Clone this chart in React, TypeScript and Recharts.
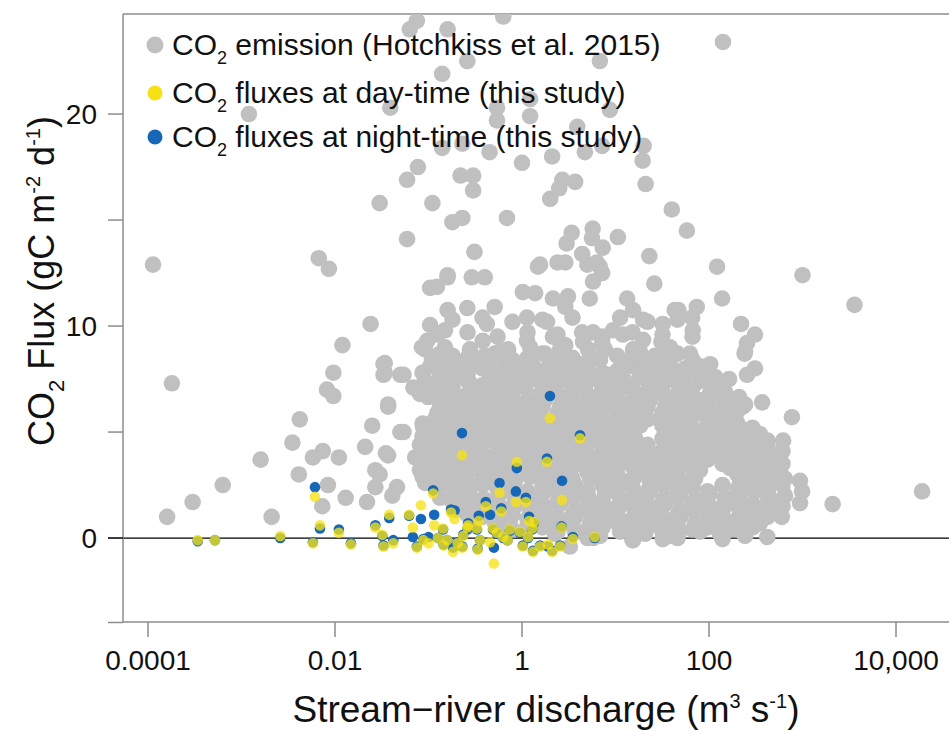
import { ScatterChart, Scatter, XAxis, YAxis, ReferenceLine } from "recharts";

const FONT = "'Liberation Sans', Arial, Helvetica, sans-serif";

// Hotchkiss et al. 2015: [discharge m3/s, CO2 flux gC m-2 d-1]
// scattered points outside the dense core
const hotchkissSparse: [number, number][] = [
  [0.000113, 12.9], [0.00018, 7.3], [0.00016, 1.0], [0.0003, 1.7], [0.00063, 2.5],
  [0.0012, 20.0], [0.0016, 3.7], [0.0021, 1.0], [0.0035, 4.5], [0.0042, 5.6],
  [0.0041, 3.0], [0.0058, 3.8], [0.0074, 4.1], [0.0067, 13.2], [0.0086, 12.7],
  [0.0084, 2.5], [0.0073, 1.5], [0.0082, 7.0], [0.0096, 6.7], [0.0096, 7.8],
  [0.012, 9.1], [0.011, 3.8], [0.013, 1.9], [0.021, 4.3], [0.022, 1.7],
  [0.024, 10.1], [0.025, 5.3], [0.027, 3.2], [0.03, 3.0], [0.027, 2.4],
  [0.03, 15.8], [0.033, 8.2], [0.033, 7.7], [0.037, 6.2], [0.037, 3.9],
  [0.041, 2.0], [0.046, 2.4], [0.039, 20.3], [0.05, 7.7], [0.05, 5.0],
  [0.059, 16.9], [0.059, 14.1], [0.077, 17.5], [0.063, 24.0], [0.075, 24.4],
  [0.11, 15.8], [0.14, 21.9], [0.14, 18.4], [0.16, 24.0], [0.16, 12.3],
  [0.18, 14.9], [0.23, 15.1], [0.23, 18.6], [0.22, 17.1], [0.3, 17.1],
  [0.3, 16.4], [0.26, 22.5], [0.45, 18.2], [0.54, 20.3], [0.54, 19.7],
  [0.63, 24.6], [0.69, 15.1], [1.0, 17.7], [1.22, 20.7], [1.22, 19.9],
  [2.1, 18.0], [2.7, 16.9], [3.7, 16.8], [2.5, 16.5], [2.0, 16.0],
  [3.9, 19.4], [4.7, 18.2], [6.8, 22.5], [7.2, 18.5], [8.7, 20.2],
  [20, 18.5], [19.5, 17.8], [21, 16.7], [40, 15.5], [58, 14.5],
  [141, 23.4], [122, 12.8], [1000, 12.4], [3600, 11.0], [19000, 2.2],
  [2100, 1.6], [940, 2.7], [990, 2.2], [940, 1.65], [620, 4.6],
  [770, 5.7], [370, 6.4], [310, 9.6], [220, 10.1], [255, 9.2],
  [240, 8.7], [310, 8.0], [255, 7.7], [164, 7.5], [103, 8.2],
  [138, 11.3], [74, 10.9], [66, 10.4], [47, 10.75], [67, 9.8],
  [32, 10.1], [26, 12.0], [23, 13.3], [10.6, 14.2], [7.3, 13.7],
  [5.7, 14.6], [5.6, 14.15], [3.4, 14.4], [3.0, 13.9], [4.4, 13.4],
  [6.3, 13.0], [7.2, 12.5], [2.4, 13.0], [2.9, 13.0], [1.56, 12.9],
  [1.48, 12.8], [5.0, 12.9], [6.8, 12.8], [5.75, 12.1], [1.02, 11.6],
  [1.38, 11.55], [2.14, 11.3], [3.1, 11.4], [5.3, 11.3], [13.3, 11.3],
  [15.4, 10.75], [2.9, 10.9], [0.104, 11.8], [0.123, 11.85], [0.29, 12.3],
  [0.4, 12.3], [0.26, 10.85], [0.51, 10.9], [0.16, 10.75], [43, 10.75],
  [11.2, 10.4], [19.7, 10.3], [1.13, 10.4], [1.85, 10.2], [0.104, 10.05],
  [0.42, 10.1], [0.15, 9.8], [4.4, 9.7], [5.75, 9.7], [9.4, 9.8],
  [12.0, 9.6], [0.097, 9.3], [0.38, 9.3], [1.13, 9.3], [2.14, 9.5],
  [4.5, 9.25], [7.2, 9.2], [19.7, 9.35], [31, 9.25], [0.15, 9.0],
  [0.085, 9.0], [2.9, 9.1], [10.4, 8.6], [15.4, 8.9], [41, 8.6],
  [0.29, 8.5], [0.51, 8.7], [0.71, 8.9], [1.31, 8.6], [5.1, 8.9],
  [0.034, 8.25], [0.109, 8.4], [0.17, 8.4], [0.054, 7.7], [0.034, 7.8],
  [0.037, 6.3], [0.054, 5.0], [0.088, 5.2], [0.081, 4.4], [0.035, 4.0],
  [0.069, 7.1], [0.099, 6.65], [0.133, 7.55], [0.31, 13.5], [0.16, 12.4],
  [80, 6.5], [117, 6.9], [210, 6.65], [230, 6.2], [275, 4.05],
  [190, 4.95], [122, 5.1], [93, 5.7], [49, 7.0], [300, 3.3],
  [420, 2.65], [600, 1.0], [275, 0.6], [167, 0.4], [420, 0.05],
  [32, -0.05], [47, 0.25], [15.4, -0.1], [5.75, 0.0], [3.25, -0.4],
];

// dense core of the Hotchkiss cloud, read band by band from top to bottom
const hotchkissCore: [number, number][] = [
  [0.1805, 10.3], [0.378, 10.4], [0.7914, 10.2], [1.657, 10.3], [3.468, 10.4], [21.99, 10.2], [46.04, 10.3],
  [0.1248, 9.6], [0.2613, 9.7], [0.547, 9.5], [1.145, 9.7], [2.397, 9.6], [7.261, 9.5], [15.2, 9.7], [31.82, 9.6], [66.61, 9.5],
  [0.092, 8.9], [0.133, 8.7], [0.278, 8.9], [0.402, 8.6], [0.58, 8.8], [1.22, 9.0], [1.76, 8.7], [2.55, 8.9],
  [5.34, 8.6], [7.72, 8.9], [18.3, 8.8], [26.5, 8.6], [38.3, 9.0], [62.6, 8.7], [243, 8.8],
  [0.1248, 8.4], [0.1805, 8.6], [0.2613, 8.5], [0.378, 8.3], [0.547, 8.6], [0.7914, 8.4], [1.145, 8.5], [1.657, 8.7],
  [2.397, 8.4], [3.468, 8.5], [5.018, 8.3], [15.2, 8.6], [21.99, 8.4], [31.82, 8.5], [46.04, 8.7], [66.61, 8.4],
  [0.104, 8.1], [0.15, 8.3], [0.217, 8.0], [0.314, 8.2], [0.455, 8.4], [0.66, 8.1], [0.95, 8.2], [1.38, 8.0],
  [1.99, 8.3], [2.88, 8.1], [4.17, 8.2], [6.83, 8.4], [12.6, 8.1], [18.3, 8.0], [26.5, 8.3], [38.3, 8.2],
  [55.4, 8.0], [80.1, 8.1],
  [0.0863, 7.8], [0.1248, 8.0], [0.1805, 7.9], [0.2613, 7.7], [0.378, 8.0], [0.547, 7.8], [0.7914, 7.9], [1.145, 8.1],
  [1.657, 7.8], [2.397, 7.9], [3.468, 7.7], [5.018, 8.0], [7.261, 7.8], [10.5, 7.9], [15.2, 8.1], [21.99, 7.8],
  [31.82, 7.9], [46.04, 7.7], [66.61, 8.0], [96.38, 7.8],
  [0.092, 7.4], [0.133, 7.6], [0.192, 7.5], [0.278, 7.3], [0.455, 7.6], [0.66, 7.4], [0.95, 7.7], [1.38, 7.5],
  [1.99, 7.3], [2.88, 7.6], [4.17, 7.4], [6.04, 7.5], [8.73, 7.7], [12.6, 7.4], [18.3, 7.6], [26.5, 7.3],
  [38.3, 7.5], [55.4, 7.7], [80.1, 7.4], [116, 7.6],
  [0.0863, 7.2], [0.1248, 7.3], [0.1805, 7.1], [0.2613, 7.4], [0.378, 7.2], [0.547, 7.3], [0.7914, 7.1], [1.145, 7.4],
  [1.657, 7.2], [2.397, 7.3], [3.468, 7.1], [5.018, 7.4], [7.261, 7.2], [10.5, 7.3], [15.2, 7.1], [21.99, 7.4],
  [31.82, 7.2], [46.04, 7.3], [66.61, 7.1], [96.38, 7.4], [139.4, 7.2],
  [0.081, 6.8], [0.117, 7.0], [0.17, 6.9], [0.246, 6.7], [0.356, 7.0], [0.514, 6.8], [0.74, 6.9], [1.08, 7.1],
  [1.56, 6.8], [2.25, 6.9], [3.26, 6.7], [4.72, 7.0], [6.83, 6.8], [9.88, 6.9], [14.3, 7.1], [20.7, 6.8],
  [29.9, 6.9], [43.3, 6.7], [62.6, 7.0], [102, 6.8], [148, 6.9],
  [0.1248, 6.6], [0.1805, 6.5], [0.2613, 6.7], [0.378, 6.6], [0.547, 6.4], [0.7914, 6.7], [1.145, 6.5], [1.657, 6.6],
  [2.397, 6.8], [3.468, 6.5], [5.018, 6.6], [7.261, 6.4], [10.5, 6.7], [15.2, 6.5], [21.99, 6.6], [31.82, 6.8],
  [46.04, 6.5], [66.61, 6.6], [96.38, 6.4], [139.4, 6.7], [201.7, 6.5],
  [0.133, 6.2], [0.192, 6.4], [0.278, 6.3], [0.402, 6.1], [0.58, 6.4], [0.84, 6.2], [1.22, 6.3], [1.76, 6.5],
  [2.55, 6.2], [3.69, 6.3], [5.34, 6.1], [7.72, 6.4], [11.2, 6.2], [16.2, 6.3], [23.4, 6.5], [33.8, 6.2],
  [49, 6.3], [70.9, 6.1], [102, 6.4], [148, 6.2], [243, 6.3],
  [0.1248, 5.9], [0.1805, 6.1], [0.2613, 6.0], [0.378, 5.8], [0.547, 6.1], [0.7914, 5.9], [1.145, 6.0], [1.657, 6.2],
  [2.397, 5.9], [3.468, 6.0], [5.018, 5.8], [7.261, 6.1], [10.5, 5.9], [15.2, 6.0], [21.99, 6.2], [31.82, 5.9],
  [46.04, 6.0], [66.61, 5.8], [96.38, 6.1], [139.4, 5.9], [201.7, 6.0],
  [0.117, 5.6], [0.17, 5.8], [0.246, 5.7], [0.356, 5.5], [0.514, 5.8], [0.74, 5.6], [1.08, 5.7], [1.56, 5.9],
  [2.25, 5.6], [3.26, 5.7], [4.72, 5.5], [6.83, 5.8], [9.88, 5.6], [14.3, 5.7], [20.7, 5.9], [29.9, 5.6],
  [43.3, 5.7], [62.6, 5.5], [90.6, 5.8], [131, 5.6], [190, 5.7],
  [0.0863, 5.4], [0.1248, 5.3], [0.1805, 5.5], [0.2613, 5.4], [0.378, 5.2], [0.547, 5.5], [0.7914, 5.3], [1.145, 5.4],
  [1.657, 5.6], [2.397, 5.3], [3.468, 5.4], [5.018, 5.2], [7.261, 5.5], [10.5, 5.3], [15.2, 5.4], [21.99, 5.6],
  [31.82, 5.3], [46.04, 5.4], [66.61, 5.2], [96.38, 5.5], [139.4, 5.3], [201.7, 5.4], [291.9, 5.2],
  [0.104, 5.0], [0.15, 5.2], [0.217, 5.1], [0.314, 4.9], [0.455, 5.2], [0.66, 5.0], [0.95, 5.1], [1.38, 5.3],
  [1.99, 5.0], [2.88, 5.1], [4.17, 4.9], [6.04, 5.2], [8.73, 5.0], [12.6, 5.1], [18.3, 5.3], [38.3, 5.0],
  [55.4, 5.1], [80.1, 4.9], [116, 5.2], [168, 5.0], [243, 5.1], [351, 4.9],
  [0.0863, 4.8], [0.1248, 4.7], [0.1805, 4.9], [0.2613, 4.8], [0.378, 4.6], [0.547, 4.9], [0.7914, 4.7], [1.145, 4.8],
  [1.657, 5.0], [2.397, 4.7], [3.468, 4.8], [5.018, 4.6], [7.261, 4.9], [10.5, 4.7], [15.2, 4.8], [31.82, 4.7],
  [46.04, 4.9], [66.61, 4.8], [96.38, 4.6], [139.4, 4.9], [201.7, 4.7], [291.9, 4.8], [422.4, 4.6],
  [0.092, 4.4], [0.133, 4.6], [0.192, 4.5], [0.278, 4.3], [0.402, 4.6], [0.58, 4.4], [0.84, 4.5], [1.22, 4.7],
  [1.76, 4.4], [2.55, 4.5], [3.69, 4.3], [5.34, 4.6], [7.72, 4.4], [11.2, 4.5], [16.2, 4.7], [33.8, 4.4],
  [49, 4.5], [70.9, 4.3], [102, 4.6], [148, 4.4], [215, 4.5], [311, 4.3],
  [0.0863, 4.2], [0.1248, 4.1], [0.1805, 4.3], [0.2613, 4.2], [0.378, 4.0], [0.547, 4.3], [0.7914, 4.1], [1.145, 4.2],
  [1.657, 4.4], [2.397, 4.1], [3.468, 4.2], [5.018, 4.0], [7.261, 4.3], [10.5, 4.1], [15.2, 4.2], [21.99, 4.4],
  [31.82, 4.1], [46.04, 4.2], [66.61, 4.0], [96.38, 4.3], [139.4, 4.1], [201.7, 4.2], [291.9, 4.0], [422.4, 4.3], [611.1, 4.1],
  [0.072, 3.8], [0.104, 4.0], [0.15, 3.9], [0.217, 3.7], [0.314, 4.0], [0.455, 3.8], [0.66, 3.9], [0.95, 4.1],
  [1.38, 3.8], [1.99, 3.9], [2.88, 3.7], [4.17, 4.0], [6.04, 3.8], [8.73, 3.9], [12.6, 4.1], [18.3, 3.8],
  [26.5, 3.9], [38.3, 3.7], [55.4, 4.0], [80.1, 3.8], [116, 3.9], [168, 4.1], [243, 3.8], [351, 3.9], [508, 3.7],
  [0.0863, 3.5], [0.1248, 3.6], [0.1805, 3.4], [0.2613, 3.7], [0.378, 3.5], [0.547, 3.6], [0.7914, 3.4], [1.145, 3.7],
  [1.657, 3.5], [2.397, 3.6], [3.468, 3.4], [5.018, 3.7], [7.261, 3.5], [10.5, 3.6], [15.2, 3.4], [21.99, 3.7],
  [31.82, 3.5], [46.04, 3.6], [66.61, 3.4], [96.38, 3.7], [139.4, 3.5], [201.7, 3.6], [291.9, 3.4], [422.4, 3.7], [611.1, 3.5],
  [0.081, 3.2], [0.117, 3.4], [0.17, 3.2], [0.246, 3.1], [0.356, 3.4], [0.514, 3.2], [0.74, 3.3], [1.08, 3.5],
  [1.56, 3.2], [2.25, 3.3], [3.26, 3.1], [4.72, 3.4], [6.83, 3.2], [9.88, 3.3], [14.3, 3.5], [20.7, 3.2],
  [29.9, 3.3], [43.3, 3.1], [62.6, 3.4], [80.1, 3.2], [168, 3.3], [243, 3.1], [351, 3.4], [508, 3.2],
  [0.0863, 2.9], [0.1248, 3.0], [0.1805, 2.8], [0.2613, 3.1], [0.378, 2.9], [0.547, 3.0], [0.7914, 2.8], [1.145, 3.1],
  [1.657, 2.9], [2.397, 3.0], [3.468, 2.8], [5.018, 3.1], [7.261, 2.9], [10.5, 3.0], [15.2, 2.8], [21.99, 3.1],
  [31.82, 2.9], [46.04, 3.0], [66.61, 2.8], [201.7, 3.0], [291.9, 2.8], [422.4, 3.1], [611.1, 2.9],
  [0.092, 2.6], [0.133, 2.8], [0.192, 2.6], [0.278, 2.5], [0.402, 2.8], [0.58, 2.6], [0.84, 2.7], [1.22, 2.9],
  [1.76, 2.6], [2.55, 2.7], [3.69, 2.5], [5.34, 2.8], [7.72, 2.6], [11.2, 2.7], [16.2, 2.9], [23.4, 2.6],
  [33.8, 2.7], [49, 2.5], [70.9, 2.8], [215, 2.6], [311, 2.7], [449, 2.5], [650, 2.8],
  [0.1248, 2.3], [0.1805, 2.4], [0.2613, 2.2], [0.378, 2.5], [0.547, 2.3], [0.7914, 2.4], [1.145, 2.2], [1.657, 2.5],
  [2.397, 2.3], [3.468, 2.4], [5.018, 2.2], [7.261, 2.5], [10.5, 2.3], [15.2, 2.4], [21.99, 2.2], [31.82, 2.5],
  [46.04, 2.3], [66.61, 2.4], [96.38, 2.2], [139.4, 2.5], [201.7, 2.3], [291.9, 2.4], [422.4, 2.2], [611.1, 2.5],
  [0.133, 1.9], [0.192, 2.1], [0.278, 2.0], [0.402, 1.8], [0.58, 2.1], [0.84, 1.9], [1.22, 2.0], [1.76, 2.2],
  [2.55, 1.9], [3.69, 2.0], [5.34, 1.8], [7.72, 2.1], [11.2, 1.9], [16.2, 2.0], [23.4, 2.2], [33.8, 1.9],
  [49, 2.0], [70.9, 1.8], [102, 2.1], [148, 1.9], [215, 2.0], [311, 2.2], [449, 1.9], [650, 2.0],
  [0.1805, 1.7], [0.2613, 1.6], [0.378, 1.8], [0.547, 1.7], [0.7914, 1.5], [1.145, 1.8], [1.657, 1.6], [2.397, 1.7],
  [3.468, 1.9], [5.018, 1.6], [7.261, 1.7], [10.5, 1.5], [15.2, 1.8], [21.99, 1.6], [31.82, 1.7], [46.04, 1.9],
  [66.61, 1.6], [96.38, 1.7], [139.4, 1.5], [201.7, 1.8], [291.9, 1.6], [422.4, 1.7], [611.1, 1.5],
  [0.192, 1.3], [0.278, 1.5], [0.402, 1.4], [0.58, 1.2], [0.84, 1.5], [1.22, 1.3], [1.76, 1.4], [2.55, 1.6],
  [3.69, 1.3], [5.34, 1.4], [7.72, 1.2], [11.2, 1.5], [16.2, 1.3], [23.4, 1.4], [33.8, 1.6], [49, 1.3],
  [70.9, 1.4], [102, 1.2], [148, 1.5], [215, 1.3], [311, 1.4], [449, 1.2],
  [0.2613, 1.1], [0.378, 1.0], [0.547, 1.2], [0.7914, 1.1], [1.145, 0.9], [1.657, 1.2], [2.397, 1.0], [3.468, 1.1],
  [5.018, 1.3], [7.261, 1.0], [10.5, 1.1], [15.2, 0.9], [21.99, 1.2], [31.82, 1.0], [46.04, 1.1], [66.61, 1.3],
  [96.38, 1.0], [139.4, 1.1], [201.7, 0.9], [291.9, 1.2], [422.4, 1.0],
  [0.314, 0.9], [0.514, 0.7], [0.74, 0.8], [1.22, 0.9], [1.76, 0.7], [2.55, 0.8], [3.69, 1.0], [5.34, 0.7],
  [7.72, 0.8], [11.2, 0.6], [16.2, 0.9], [23.4, 0.7], [33.8, 0.8], [49, 1.0], [70.9, 0.7], [102, 0.8],
  [148, 0.6], [215, 0.9], [351, 0.7],
  [0.547, 0.5], [0.7914, 0.4], [1.145, 0.6], [1.657, 0.5], [2.397, 0.3], [3.468, 0.6], [5.018, 0.4], [7.261, 0.5],
  [10.5, 0.7], [15.2, 0.4], [21.99, 0.5], [31.82, 0.3], [46.04, 0.6], [66.61, 0.4], [96.38, 0.5], [139.4, 0.7],
  [201.7, 0.4], [291.9, 0.5],
  [2.25, 0.2], [3.69, 0.3], [6.83, 0.1], [11.2, 0.3], [20.7, 0.2], [38.3, 0.1], [80.1, 0.3], [131, 0.2], [243, 0.1],
  [5.018, 0.0], [15.2, -0.1], [46.04, 0.0], [139.4, -0.05],
];

// this study: one discharge per site, flux by day and by night
const studyDischarge = [
  0.00034, 0.00052, 0.0026, 0.0061, 0.0058, 0.0069, 0.011, 0.0148, 0.027, 0.038,
  0.032, 0.033, 0.042, 0.062, 0.068, 0.075, 0.083, 0.088, 0.1, 0.112,
  0.115, 0.126, 0.143, 0.145, 0.158, 0.174, 0.183, 0.19, 0.205, 0.228,
  0.23, 0.235, 0.26, 0.265, 0.33, 0.335, 0.345, 0.355, 0.41, 0.455,
  0.49, 0.5, 0.54, 0.575, 0.6, 0.63, 0.7, 0.74, 0.86, 0.88,
  0.95, 1.02, 1.1, 1.16, 1.19, 1.28, 1.34, 1.31, 1.56, 1.85,
  1.9, 1.99, 2.1, 2.55, 2.68, 2.65, 3.5, 4.17, 6.0,
];
const dayFlux = [
  -0.1, -0.1, 0.1, 1.95, -0.25, 0.6, 0.25, -0.3, 0.5, 1.1,
  0.15, -0.4, -0.25, 1.1, 0.5, -0.45, 1.55, -0.1, -0.25, 2.1,
  0.6, 0.0, 0.45, -0.35, -0.1, 1.2, -0.65, 0.9, -0.25, 3.9,
  -0.45, 0.1, 0.5, 0.6, 0.45, -0.55, 0.8, -0.1, 1.5, -0.2,
  0.45, -1.2, 0.25, 2.15, 1.25, 0.05, -0.1, 0.4, 1.7, 3.6,
  0.3, -0.4, 1.7, 0.05, 0.8, 0.45, 0.75, -0.65, -0.4, 3.6,
  -0.3, 5.65, -0.65, -0.4, 1.8, 0.5, -0.05, 4.7, 0.05,
];
const nightFlux = [
  -0.15, -0.1, 0.0, 2.4, -0.2, 0.45, 0.4, -0.25, 0.6, 0.95,
  0.1, -0.35, -0.1, 1.05, 0.05, -0.4, 0.9, -0.05, 0.05, 2.25,
  1.1, 0.0, 0.4, -0.3, -0.1, 1.35, -0.45, 1.3, -0.2, 4.95,
  -0.4, 0.15, 0.4, 0.7, 0.4, -0.5, 1.05, -0.1, 1.7, 1.1,
  0.4, -0.45, 0.2, 2.6, 1.4, 0.0, -0.1, 0.35, 2.2, 3.3,
  0.25, -0.35, 1.9, 0.0, 1.0, 0.4, 0.7, -0.6, -0.35, 3.75,
  -0.4, 6.7, -0.6, -0.35, 2.7, 0.55, 0.05, 4.85, 0.0,
];

const xTicks = [0.0001, 0.01, 1, 100, 10000];
const xTickLabels = ["0.0001", "0.01", "1", "100", "10,000"];
const yTicks = [0, 5, 10, 15, 20];
const yTickLabels = ["0", "", "10", "", "20"];

const X_DOMAIN = [5.4e-5, 40700];
const Y_DOMAIN = [-3.96, 24.72];

const GRAY = "#c0c0c0";
const YELLOW = "#f6e116";
const BLUE = "#1667b8";
const AXIS = "#8c8c8c";

const grayPoints = [...hotchkissSparse, ...hotchkissCore].map(([x, y]) => ({ x, y }));
const dayPoints = studyDischarge.map((x, i) => ({ x, y: dayFlux[i] }));
const nightPoints = studyDischarge.map((x, i) => ({ x, y: nightFlux[i] }));

const dot = (r: number, fill: string, opacity = 1) => (props: any) => (
  <circle cx={props.cx} cy={props.cy} r={r} fill={fill} fillOpacity={opacity} />
);

function Overlay() {
  return (
    <svg
      width={949}
      height={731}
      style={{ position: "absolute", left: 0, top: 0, pointerEvents: "none" }}
      fontFamily={FONT}
    >
      {/* axis stubs left of the box, as in the original */}
      <line x1={108} x2={123} y1={622.5} y2={622.5} stroke={AXIS} strokeWidth={1.5} />
      <line x1={108} x2={123} y1={538} y2={538} stroke="#000" strokeWidth={1.3} />

      {/* legend */}
      <circle cx={155} cy={45} r={8.5} fill={GRAY} />
      <circle cx={155} cy={93} r={7.5} fill={YELLOW} />
      <circle cx={155} cy={137} r={7.5} fill={BLUE} />
      <text x={172} y={55} fontSize={30} fill="#111">
        CO<tspan fontSize={18} dy={9}>2</tspan>
        <tspan dy={-9}> emission (Hotchkiss et al. 2015)</tspan>
      </text>
      <text x={172} y={103} fontSize={30} fill="#111">
        CO<tspan fontSize={18} dy={9}>2</tspan>
        <tspan dy={-9}> fluxes at day-time (this study)</tspan>
      </text>
      <text x={172} y={147} fontSize={30} fill="#111">
        CO<tspan fontSize={18} dy={9}>2</tspan>
        <tspan dy={-9}> fluxes at night-time (this study)</tspan>
      </text>

      {/* axis titles */}
      <text x={546} y={722} fontSize={37} fill="#111" textAnchor="middle">
        Stream−river discharge (m<tspan fontSize={20} dy={-14}>3</tspan>
        <tspan dy={14}> s</tspan>
        <tspan fontSize={20} dy={-14}>-1</tspan>
        <tspan dy={14}>)</tspan>
      </text>
      <text
        x={0}
        y={0}
        fontSize={36}
        fill="#111"
        textAnchor="middle"
        transform="translate(54,281) rotate(-90)"
      >
        CO<tspan fontSize={22} dy={10}>2</tspan>
        <tspan dy={-10}> Flux (gC m</tspan>
        <tspan fontSize={20} dy={-14}>-2</tspan>
        <tspan dy={14}> d</tspan>
        <tspan fontSize={20} dy={-14}>-1</tspan>
        <tspan dy={14}>)</tspan>
      </text>
    </svg>
  );
}

export default function App() {
  return (
    <div
      style={{
        position: "absolute",
        left: 0,
        top: 0,
        width: 949,
        height: 731,
        overflow: "hidden",
        background: "#fff",
      }}
    >
      <ScatterChart width={960} height={731} margin={{ top: 14, right: 7, bottom: 0, left: 0 }}>
        <XAxis
          dataKey="x"
          type="number"
          scale="log"
          domain={X_DOMAIN}
          allowDataOverflow
          ticks={xTicks}
          interval={0}
          tickFormatter={(v: number) => xTickLabels[xTicks.indexOf(v)] ?? ""}
          height={109}
          tickSize={15}
          tickMargin={13}
          axisLine={{ stroke: AXIS, strokeWidth: 1.5 }}
          tickLine={{ stroke: AXIS, strokeWidth: 1.5 }}
          tick={{ fontSize: 28, fill: "#111", fontFamily: FONT }}
        />
        <YAxis
          dataKey="y"
          type="number"
          domain={Y_DOMAIN}
          allowDataOverflow
          ticks={yTicks}
          interval={0}
          tickFormatter={(v: number) => yTickLabels[yTicks.indexOf(v)] ?? ""}
          width={123}
          tickSize={15}
          tickMargin={11}
          axisLine={{ stroke: AXIS, strokeWidth: 1.5 }}
          tickLine={{ stroke: AXIS, strokeWidth: 1.5 }}
          tick={{ fontSize: 28, fill: "#111", fontFamily: FONT }}
        />
        <ReferenceLine y={Y_DOMAIN[1]} stroke={AXIS} strokeWidth={1.5} />
        <Scatter data={grayPoints} shape={dot(8.3, GRAY)} isAnimationActive={false} />
        <Scatter data={nightPoints} shape={dot(5.3, BLUE)} isAnimationActive={false} />
        <Scatter data={dayPoints} shape={dot(5.3, YELLOW, 0.78)} isAnimationActive={false} />
        <ReferenceLine y={0} stroke="#000" strokeWidth={1.3} />
      </ScatterChart>
      <Overlay />
    </div>
  );
}
